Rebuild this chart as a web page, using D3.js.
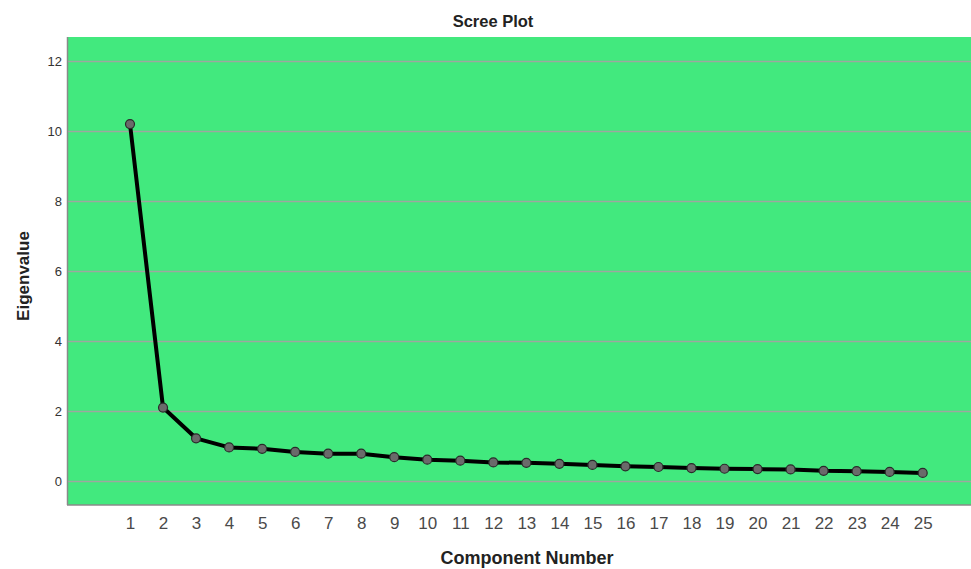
<!DOCTYPE html>
<html>
<head>
<meta charset="utf-8">
<script src="https://cdn.jsdelivr.net/npm/d3@7"></script>
<style>
  html, body { margin: 0; padding: 0; background: #fff; }
  svg { display: block; font-family: Arial, "Liberation Sans", sans-serif; }
</style>
</head>
<body>
<svg id="chart" width="971" height="569"></svg>
<script>
const components = [1,2,3,4,5,6,7,8,9,10,11,12,13,14,15,16,17,18,19,20,21,22,23,24,25];
const eigenvalues = [10.2,2.1,1.22,0.96,0.92,0.83,0.78,0.78,0.68,0.61,0.58,0.53,0.52,0.49,0.46,0.42,0.40,0.37,0.35,0.34,0.33,0.29,0.28,0.26,0.23];
const yTicks = [0,2,4,6,8,10,12];
const title = "Scree Plot";
const xTitle = "Component Number";
const yTitle = "Eigenvalue";

const svg = d3.select("#chart");
const plot = { left: 67, right: 971, top: 37, bottom: 505 };

const x = d3.scaleLinear().domain([1, 25]).range([130, 922.7]);
const y = d3.scaleLinear().domain([-0.68, 12.69]).range([504.8, 37]);

// background
svg.append("rect")
  .attr("x", plot.left).attr("y", plot.top)
  .attr("width", plot.right - plot.left).attr("height", plot.bottom - plot.top)
  .attr("fill", "#42E97E");

// gridlines
svg.append("g").selectAll("line").data(yTicks).join("line")
  .attr("x1", plot.left).attr("x2", plot.right)
  .attr("y1", d => Math.round(y(d)) + 0.5).attr("y2", d => Math.round(y(d)) + 0.5)
  .attr("stroke", "#9da89f").attr("stroke-width", 1.5);

// borders (left and bottom)
svg.append("line").attr("x1", plot.left + 0.5).attr("x2", plot.left + 0.5)
  .attr("y1", plot.top).attr("y2", plot.bottom)
  .attr("stroke", "#8a8a8a").attr("stroke-width", 1.5);
svg.append("line").attr("x1", plot.left).attr("x2", plot.right)
  .attr("y1", plot.bottom).attr("y2", plot.bottom)
  .attr("stroke", "#8a8a8a").attr("stroke-width", 1.5);

// y axis
const yAxis = d3.axisLeft(y).tickValues(yTicks).tickSize(0).tickPadding(5);
const gy = svg.append("g").attr("transform", `translate(${plot.left},0)`).call(yAxis);
gy.select(".domain").remove();
gy.selectAll("text").attr("font-size", 13).attr("fill", "#333").attr("font-family", "Arial, 'Liberation Sans', sans-serif");

// x axis
const xAxis = d3.axisBottom(x).tickValues(components).tickSize(0).tickPadding(12).tickFormat(d3.format("d"));
const gx = svg.append("g").attr("transform", `translate(0,${plot.bottom})`).call(xAxis);
gx.select(".domain").remove();
gx.selectAll("text").attr("font-size", 17).attr("fill", "#4a4a4a").attr("font-family", "Arial, 'Liberation Sans', sans-serif");

// line
const data = components.map((c, i) => ({ c, v: eigenvalues[i] }));
svg.append("path").datum(data)
  .attr("fill", "none").attr("stroke", "#000").attr("stroke-width", 4)
  .attr("stroke-linejoin", "round")
  .attr("d", d3.line().x(d => x(d.c)).y(d => y(d.v)));

svg.append("g").selectAll("circle").data(data).join("circle")
  .attr("cx", d => x(d.c)).attr("cy", d => y(d.v)).attr("r", 4.5)
  .attr("fill", "#6a6a6a").attr("stroke", "#2a2a2a").attr("stroke-width", 1.2);

// titles
svg.append("text").attr("x", 493).attr("y", 27).attr("text-anchor", "middle")
  .attr("font-size", 16.5).attr("font-weight", "bold").attr("fill", "#222").text(title);
svg.append("text").attr("x", 527).attr("y", 564).attr("text-anchor", "middle")
  .attr("font-size", 18).attr("font-weight", "bold").attr("fill", "#222").text(xTitle);
svg.append("text").attr("transform", "translate(29,276) rotate(-90)").attr("text-anchor", "middle")
  .attr("font-size", 17).attr("font-weight", "bold").attr("fill", "#222").text(yTitle);
</script>
</body>
</html>
